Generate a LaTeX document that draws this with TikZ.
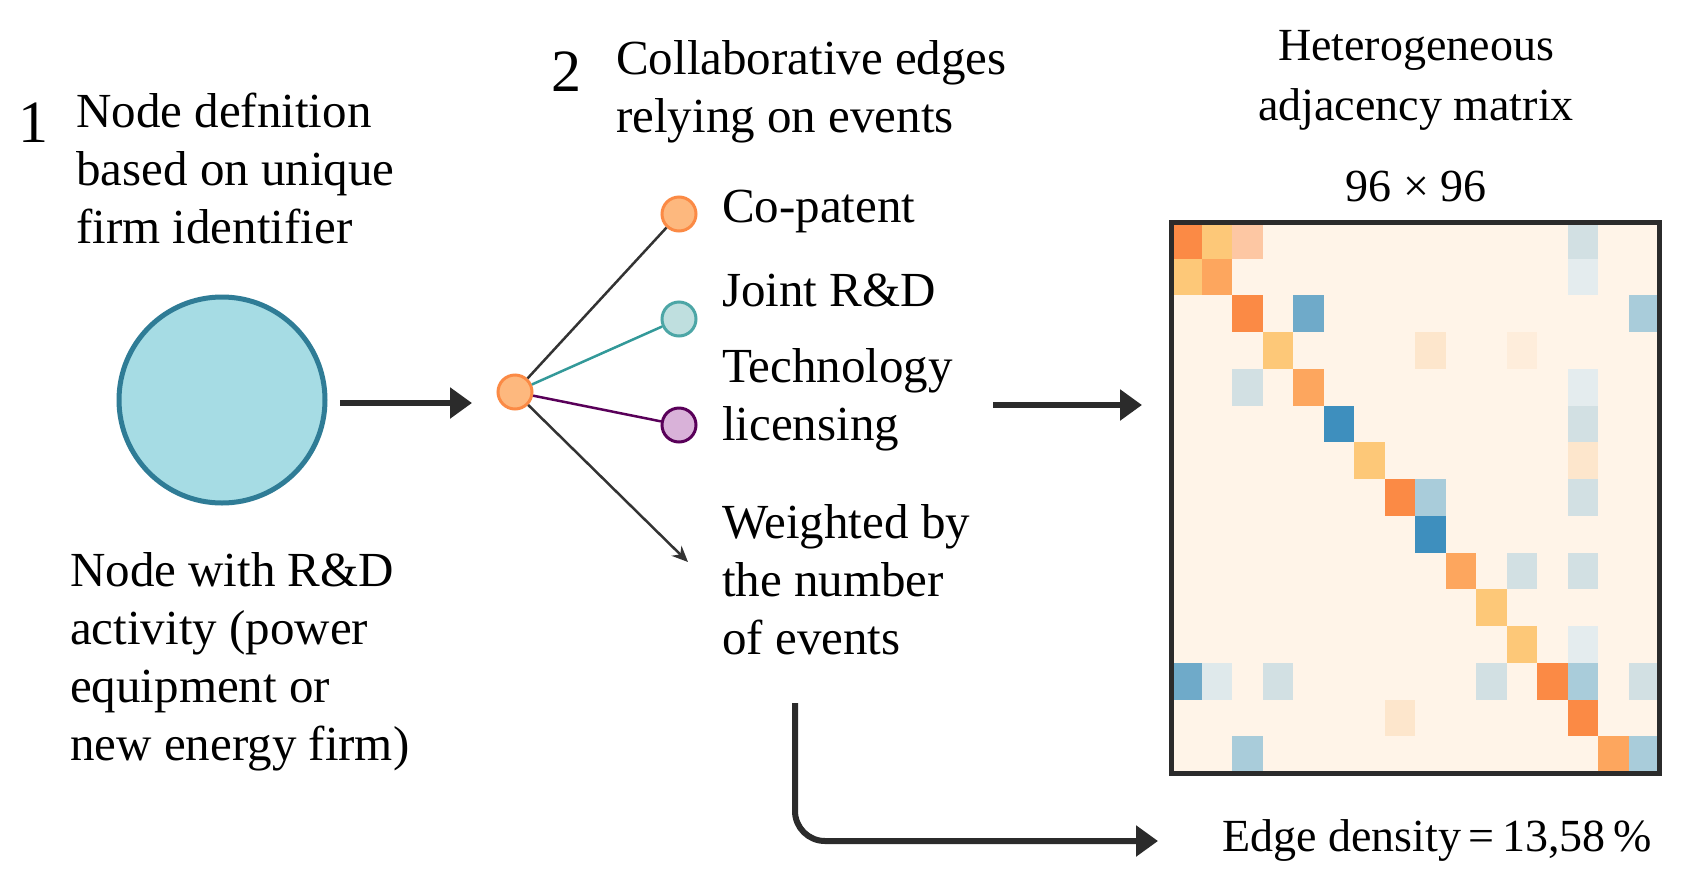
\documentclass[tikz,border=0pt]{standalone}
\usepackage{fontspec}
\setmainfont{Liberation Serif}
\usetikzlibrary{arrows.meta}
\definecolor{ink}{HTML}{2B2B2B}
\definecolor{bg}{HTML}{FFF4E8}
\definecolor{O1}{HTML}{FB8A45}
\definecolor{O2}{HTML}{FDA65E}
\definecolor{Y1}{HTML}{FDC878}
\definecolor{S1}{HTML}{FDC7A3}
\definecolor{B1}{HTML}{3E8FBE}
\definecolor{B2}{HTML}{6FAAC9}
\definecolor{B3}{HTML}{A9CCDA}
\definecolor{G1}{HTML}{D2E0E3}
\definecolor{F1}{HTML}{FDE6CC}
\definecolor{CircleF}{HTML}{A6DCE4}
\definecolor{CircleD}{HTML}{2F7C96}
\begin{document}
\begin{tikzpicture}[x=1pt,y=-1pt,
  txt/.style={font=\fontsize{49}{58}\selectfont,align=left,anchor=north west,inner sep=0},
  num/.style={font=\fontsize{60}{60}\selectfont,inner sep=0},
  arr/.style={ink,line width=6pt,-{Triangle[length=22pt,width=30pt]}},
  dot/.style={circle,minimum size=34pt,inner sep=0,line width=3pt}]
\useasboundingbox (0,0) rectangle (1695,884);
\fill[white] (0,0) rectangle (1695,884);
% panel 1
\node[num] (n1) at (33,123) {1};
\node[txt] (t1) at (76,93) {Node defnition\\based on unique\\firm identifier};
\node[circle,minimum size=206pt,fill=CircleF,draw=CircleD,line width=5pt] (c) at (222,400) {};
\node[txt] (t1b) at (70,552) {Node with R\&D\\activity (power\\equipment or\\new energy firm)};
\coordinate (a1s) at (340,403);
\coordinate (a1e) at (472,403);
\draw[arr] (a1s) -- (a1e);
% panel 2
\node[num] (n2) at (566,72) {2};
\node[txt] (t2) at (616,40) {Collaborative edges\\relying on events};
\node[dot,fill=O2!80,draw=O1] (hub) at (515,392) {};
\node[dot,fill=O2!80,draw=O1] (cp) at (679,214) {};
\node[dot,fill=teal!25,draw=teal!70] (jr) at (679,319) {};
\node[dot,fill=violet!30,draw=violet!70!black] (tl) at (679,425) {};
\coordinate (we) at (688,562);
\draw[gray!40!black,line width=2.5pt] (hub) -- (cp);
\draw[teal!80,line width=2.5pt] (hub) -- (jr);
\draw[violet!70!black,line width=2.5pt] (hub) -- (tl);
\draw[gray!40!black,line width=2.5pt,-{Stealth[length=16pt,width=14pt]}] (hub) -- (we);
\node[txt,anchor=west] (l1) at (722,211) {Co-patent};
\node[txt,anchor=west] (l2) at (722,290) {Joint R\&D};
\node[txt] (l3) at (722,348) {Technology\\licensing};
\node[txt] (l4) at (722,504) {Weighted by\\the number\\of events};
\coordinate (a2s) at (993,405);
\coordinate (a2e) at (1142,405);
\draw[arr] (a2s) -- (a2e);
% panel 3
\node[font=\fontsize{46}{60}\selectfont,align=center,anchor=north,inner sep=0] (t3) at (1416,30) {Heterogeneous\\adjacency matrix};
\node[font=\fontsize{46}{50}\selectfont,inner sep=0] (t96) at (1416,186) {96 × 96};
\fill[bg] (1171,222) rectangle (1659,773);
\foreach \r/\c/\col in {
 0/0/O1,0/1/Y1,0/2/S1,0/13/G1,
 1/0/Y1,1/1/O2,1/13/G1!60,
 2/2/O1,2/4/B2,2/15/B3,
 3/3/Y1,3/8/F1,3/11/F1!70,
 4/2/G1,4/4/O2,4/13/G1!60,
 5/5/B1,5/13/G1,
 6/6/Y1,6/13/F1,
 7/7/O1,7/8/B3,7/13/G1,
 8/8/B1,
 9/9/O2,9/11/G1,9/13/G1,
 10/10/Y1,
 11/11/Y1,11/13/G1!60,
 12/0/B2,12/1/G1!70,12/3/G1,12/10/G1,12/12/O1,12/13/B3,12/15/G1,
 13/13/O1,13/7/F1,
 14/2/B3,14/14/O2,14/15/B3}
 {\fill[\col] ({1171+\c*30.5},{222+\r*36.73}) rectangle ++(30.5,36.73);}
\draw[ink,line width=5pt] (1171,222) rectangle (1659,773);
\node[font=\fontsize{46}{50}\selectfont,inner sep=0] (ed) at (1437,840) {Edge density\,=\,13,58\,\%};
\coordinate (bs) at (795,703);
\coordinate (be) at (1158,841);
\draw[arr,rounded corners=30pt] (bs) |- (be);
\end{tikzpicture}
\end{document}
